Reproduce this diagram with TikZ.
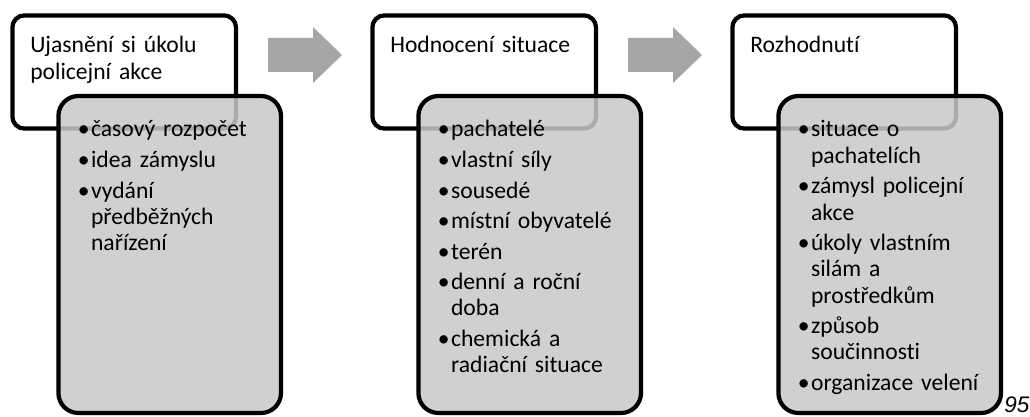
\documentclass[tikz,border=0pt]{standalone}
\usepackage{fontspec}
\setmainfont{Carlito}[Ligatures=NoCommon]
\newfontfamily\pagenumfont{Liberation Sans}
\usepackage{xcolor}
\definecolor{boxgray}{HTML}{C8C8C8}
\definecolor{arrowgray}{HTML}{A6A6A6}
\newcommand{\bul}{\leavevmode\llap{•\hspace{1pt}}}

\begin{document}
\begin{tikzpicture}[
    headbox/.style={fill=white,draw=black,line width=3pt,rounded corners=0.3cm},
    listbox/.style={fill=boxgray,fill opacity=0.85,draw=black,draw opacity=1,line width=3pt,rounded corners=0.5cm},
    blockarrow/.style={fill=arrowgray},
    every node/.style={font=\fontsize{16.8}{18.7}\selectfont,inner sep=0pt,anchor=base west,text width=6cm,align=left}]
  \useasboundingbox (0,0) rectangle (25.75,10.425);
  \draw[headbox] (0.31,10.04) rectangle (5.9,7.21);
  \draw[listbox] (1.46,8.025) rectangle (7.025,0.1);
  \node (head1) at (0.75,9.1) {Ujasnění si úkolu\\policejní akce};
  \node (list1) at (2.27,7.0) {\bul časový rozpočet\\[3pt]\bul idea zámyslu\\[3pt]\bul vydání\\předběžných\\nařízení};
  \fill[blockarrow] (6.7,9.475) -- (7.825,9.475) -- (7.825,9.75) -- (8.55,9.05) -- (7.825,8.35) -- (7.825,8.625) -- (6.7,8.625) -- cycle;
  \draw[headbox] (9.31,10.04) rectangle (14.9,7.21);
  \draw[listbox] (10.46,8.025) rectangle (16.025,0.1);
  \node (head2) at (9.75,9.1) {Hodnocení situace};
  \node (list2) at (11.27,7.0) {\bul pachatelé\\[3pt]\bul vlastní síly\\[3pt]\bul sousedé\\[3pt]\bul místní obyvatelé\\[3pt]\bul terén\\[3pt]\bul denní a roční\\doba\\[3pt]\bul chemická a\\radiační situace};
  \fill[blockarrow] (15.7,9.475) -- (16.825,9.475) -- (16.825,9.75) -- (17.55,9.05) -- (16.825,8.35) -- (16.825,8.625) -- (15.7,8.625) -- cycle;
  \draw[headbox] (18.31,10.04) rectangle (23.9,7.21);
  \draw[listbox] (19.46,8.025) rectangle (25.025,0.1);
  \node (head3) at (18.75,9.1) {Rozhodnutí};
  \node (list3) at (20.27,7.0) {\bul situace o\\pachatelích\\[3pt]\bul zámysl policejní\\akce\\[3pt]\bul úkoly vlastním\\silám a\\prostředkům\\[3pt]\bul způsob\\součinnosti\\[3pt]\bul organizace velení};
  \node (pagenum) [font=\pagenumfont\itshape\fontsize{16}{18}\selectfont,text width=] at (25.1,0.1) {95};
\end{tikzpicture}
\end{document}
